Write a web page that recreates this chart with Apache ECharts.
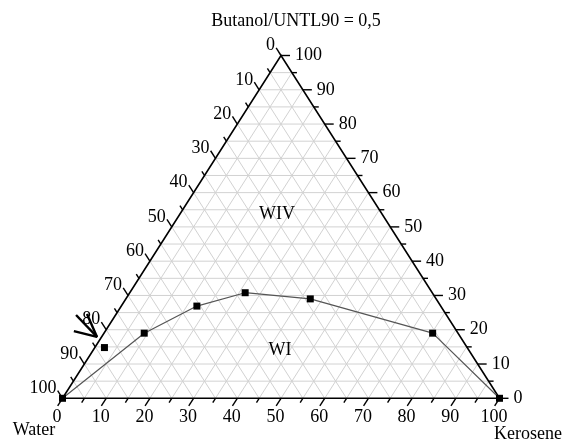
<!DOCTYPE html>
<html><head><meta charset="utf-8">
<script src="https://cdn.jsdelivr.net/npm/echarts@6/dist/echarts.min.js"></script>
<style>html,body{margin:0;padding:0;background:#fff}#c{width:565px;height:441px}</style>
</head><body><div id="c"></div>
<script>
// ---- data ----
const titleText = 'Butanol/UNTL90 = 0,5';
const vertexNames = ['Water', 'Kerosene'];
const tickValues = [0, 10, 20, 30, 40, 50, 60, 70, 80, 90, 100];
const minorTickValues = [5, 15, 25, 35, 45, 55, 65, 75, 85, 95];
const gridSteps = [5, 10, 15, 20, 25, 30, 35, 40, 45, 50, 55, 60, 65, 70, 75, 80, 85, 90, 95];
// boundary curve: kerosene %, butanol/UNTL90 % (water = remainder)
const kerosene = [0, 9.2, 17.3, 26.4, 42.2, 75.2, 100];
const butanol = [0, 19.0, 26.9, 30.8, 29.0, 19.0, 0];
// isolated point marked by the arrow
const isoKerosene = [2.2];
const isoButanol = [14.8];
// region labels
const regionNames = ['WIV', 'WI'];
const regionKerosene = [22.2, 42.7];
const regionButanol = [53.8, 14.1];
// arrow annotation (plot coordinates)
const arrowShaft = [[3.1, 24.3], [7.9, 17.9]];
const arrowHead = [[5.6, 24.6], [7.9, 17.9], [2.6, 19.6]];

// ternary (kerosene, butanol) -> plot coordinates
function tern(k, t) { return [k + t / 2, t]; }

const FONT = '"Liberation Serif", "Times New Roman", serif';

// grid segments (three families of iso-lines)
const gridSegs = [];
gridSteps.forEach(function (s) {
  gridSegs.push([s / 2, s, 100 - s / 2, s]);            // constant butanol
  gridSegs.push([s, 0, s + (100 - s) / 2, 100 - s]);    // constant kerosene
  gridSegs.push([100 - s, 0, (100 - s) / 2, 100 - s]);  // constant water
});

function axisPoint(side, v) {
  if (side === 0) return [v, 0];            // bottom: kerosene
  if (side === 1) return [100 - v / 2, v];  // right: butanol
  return [(100 - v) / 2, 100 - v];          // left: water
}

const tickData = [];
[0, 1, 2].forEach(function (side) {
  tickValues.forEach(function (v) { tickData.push([v, side, 1]); });
  minorTickValues.forEach(function (v) { tickData.push([v, side, 0]); });
});

function norm(a, b) {
  const dx = b[0] - a[0], dy = b[1] - a[1];
  const l = Math.sqrt(dx * dx + dy * dy);
  return [dx / l, dy / l];
}

const chart = echarts.init(document.getElementById('c'), null, { renderer: 'canvas' });
chart.setOption({
  animation: false,
  backgroundColor: '#fff',
  grid: { left: 62.5, right: 65.5, top: 55.5, bottom: 42.7 },
  xAxis: { type: 'value', min: 0, max: 100, show: false },
  yAxis: { type: 'value', min: 0, max: 100, show: false },
  graphic: [{
    type: 'text', x: 296, y: 21,
    style: { text: titleText, align: 'center', verticalAlign: 'middle', font: '18px ' + FONT, fill: '#000' }
  }],
  series: [
    {
      type: 'custom', z: 1, silent: true,
      data: gridSegs,
      renderItem: function (params, api) {
        const a = api.coord([api.value(0), api.value(1)]);
        const b = api.coord([api.value(2), api.value(3)]);
        return { type: 'line', shape: { x1: a[0], y1: a[1], x2: b[0], y2: b[1] },
          style: { stroke: '#d2d2d2', lineWidth: 1 } };
      }
    },
    {
      type: 'custom', z: 3, silent: true,
      data: [[0]],
      renderItem: function (params, api) {
        const L = api.coord([0, 0]), R = api.coord([100, 0]), T = api.coord([50, 100]);
        return { type: 'polygon', shape: { points: [L, R, T] },
          style: { fill: 'none', stroke: '#000', lineWidth: 1.6 } };
      }
    },
    {
      type: 'custom', z: 4, silent: true,
      data: tickData,
      renderItem: function (params, api) {
        const v = api.value(0), side = api.value(1), major = api.value(2);
        const L = api.coord([0, 0]), R = api.coord([100, 0]), T = api.coord([50, 100]);
        const p = api.coord(axisPoint(side, v));
        let d;
        if (side === 0) d = norm(T, L);
        else if (side === 1) d = [1, 0];
        else d = norm(R, T);
        const len = major ? 9 : 5;
        const children = [{ type: 'line',
          shape: { x1: p[0], y1: p[1], x2: p[0] + d[0] * len, y2: p[1] + d[1] * len },
          style: { stroke: '#000', lineWidth: 1.4 } }];
        if (major) {
          let tx, ty, al;
          if (side === 0) { tx = p[0] - 5.5; ty = p[1] + 19; al = 'center'; }
          else if (side === 1) { tx = p[0] + 14; ty = p[1]; al = 'left'; }
          else { tx = p[0] - 6; ty = p[1] - 10; al = 'right'; }
          children.push({ type: 'text',
            style: { text: String(v), x: tx, y: ty, align: al, verticalAlign: 'middle', font: '18px ' + FONT, fill: '#000' } });
        }
        return { type: 'group', children: children };
      }
    },
    {
      type: 'custom', z: 4, silent: true,
      data: [[0, 0, 0], [100, 0, 1]],
      renderItem: function (params, api) {
        const p = api.coord([api.value(0), api.value(1)]);
        const i = api.value(2);
        const off = i === 0 ? [-28.5, 32] : [28.5, 36];
        return { type: 'text', style: { text: vertexNames[i], x: p[0] + off[0], y: p[1] + off[1],
          align: 'center', verticalAlign: 'middle', font: '18px ' + FONT, fill: '#000' } };
      }
    },
    {
      type: 'custom', z: 5, silent: true,
      data: regionNames.map(function (n, i) {
        return tern(regionKerosene[i], regionButanol[i]).concat([i]);
      }),
      renderItem: function (params, api) {
        const p = api.coord([api.value(0), api.value(1)]);
        return { type: 'text', style: { text: regionNames[api.value(2)], x: p[0], y: p[1],
          align: 'center', verticalAlign: 'middle', font: '18px ' + FONT, fill: '#000' } };
      }
    },
    {
      type: 'line', z: 6,
      data: kerosene.map(function (k, i) { return tern(k, butanol[i]); }),
      symbol: 'rect', symbolSize: 7, showSymbol: true,
      itemStyle: { color: '#000', opacity: 1 },
      lineStyle: { color: '#555', width: 1.2 }
    },
    {
      type: 'scatter', z: 6,
      data: isoKerosene.map(function (k, i) { return tern(k, isoButanol[i]); }),
      symbol: 'rect', symbolSize: 7,
      itemStyle: { color: '#000', opacity: 1 }
    },
    {
      type: 'line', z: 7, data: arrowShaft, symbol: 'none',
      lineStyle: { color: '#000', width: 2.4 }
    },
    {
      type: 'line', z: 7, data: arrowHead, symbol: 'none',
      lineStyle: { color: '#000', width: 2.4 }
    }
  ]
});
</script>
</body></html>
